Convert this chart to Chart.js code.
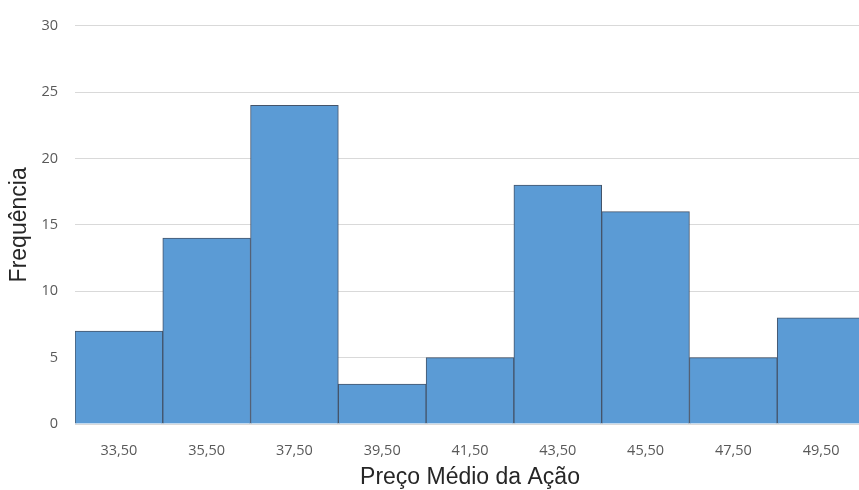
<!DOCTYPE html>
<html>
<head>
<meta charset="utf-8">
<script src="https://cdn.jsdelivr.net/npm/chart.js@4"></script>
<style>
  html, body { margin: 0; padding: 0; background: #fff; overflow: hidden; }
</style>
</head>
<body>
<canvas id="histChart" width="865" height="490"></canvas>
<script>
var categories = ['33,50', '35,50', '37,50', '39,50', '41,50', '43,50', '45,50', '47,50', '49,50'];
var frequencies = [7, 14, 24, 3, 5, 18, 16, 5, 8];
var yTicks = [0, 5, 10, 15, 20, 25, 30];

var ctx = document.getElementById('histChart');
var histChart = new Chart(ctx, {
    type: 'bar',
    data: {
        labels: categories,
        datasets: [{
            label: 'Frequência',
            data: frequencies,
            backgroundColor: '#5B9BD5',
            borderColor: '#44546A',
            borderWidth: 1,
            borderSkipped: 'bottom',
            barPercentage: 1,
            categoryPercentage: 1
        }]
    },
    options: {
        responsive: false,
        animation: false,
        layout: { padding: { top: 21, left: 0, right: 0, bottom: 0 } },
        plugins: {
            legend: { display: false },
            tooltip: { enabled: false }
        },
        scales: {
            x: {
                grid: { display: false },
                border: { display: true, color: '#d9d9d9', width: 1 },
                ticks: {
                    color: '#595959',
                    font: { family: 'Open Sans', size: 14.5 },
                    padding: 10
                },
                title: {
                    display: true,
                    text: 'Preço Médio da Ação',
                    color: '#262626',
                    font: { family: 'Liberation Sans', size: 23 },
                    padding: { top: 0, bottom: -1 }
                },
                afterFit: function (scale) { scale.height = 66; }
            },
            y: {
                min: yTicks[0],
                max: yTicks[yTicks.length - 1],
                afterBuildTicks: function (scale) {
                    scale.ticks = yTicks.map(function (v) { return { value: v }; });
                },
                grid: { color: '#d9d9d9', drawTicks: false },
                border: { display: false },
                ticks: {
                    color: '#595959',
                    font: { family: 'Open Sans', size: 14.5 },
                    padding: 17
                },
                title: {
                    display: true,
                    text: 'Frequência',
                    color: '#262626',
                    font: { family: 'Liberation Sans', size: 23 },
                    padding: { top: 6, bottom: 0 }
                },
                afterFit: function (scale) { scale.width = 75; }
            }
        }
    }
});
</script>
</body>
</html>
